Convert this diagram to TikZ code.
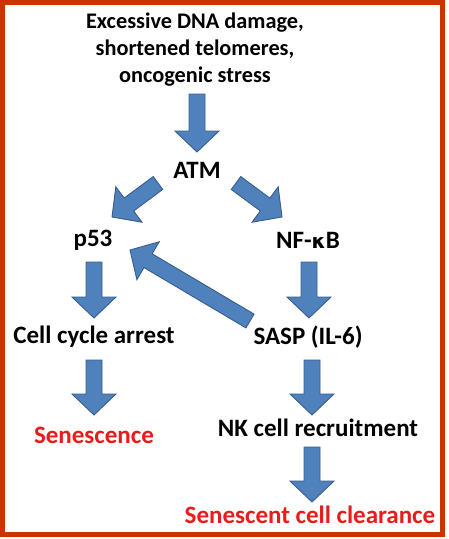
\documentclass[tikz,border=0pt]{standalone}
\usepackage{fontspec}
\setmainfont{Carlito}
\usetikzlibrary{calc}
\definecolor{framered}{RGB}{204,51,0}
\definecolor{arrowfill}{RGB}{79,129,189}
\definecolor{arrowline}{RGB}{56,93,138}
\definecolor{txtred}{RGB}{232,28,28}
\newcommand\lblfont{\fontsize{25}{30}\selectfont\bfseries}
\tikzset{
  lbl/.style={font=\lblfont, align=center, inner sep=0pt},
  toplbl/.style={lbl, font=\fontsize{22.3}{27}\selectfont\bfseries},
  redlbl/.style={lbl, text=txtred},
  blockarrow/.style={fill=arrowfill, draw=arrowline, line width=0.9pt, line join=miter}
}
\newcommand\barrow[2]{%
  \coordinate (hb) at ($(#2)!21pt!(#1)$);
  \path[blockarrow] ($(#1)!8pt!90:(#2)$) -- ($(hb)!8pt!-90:(#1)$) -- ($(hb)!22pt!-90:(#1)$) -- (#2)
    -- ($(hb)!22pt!90:(#1)$) -- ($(hb)!8pt!90:(#1)$) -- ($(#1)!8pt!-90:(#2)$) -- cycle;}
\begin{document}
\begin{tikzpicture}[x=1pt,y=-1pt]
\useasboundingbox (0,0) rectangle (449,539);
\draw[framered, line width=5pt] (2.5,2.5) rectangle (442.5,534.5);

\node[toplbl] (src) at (195,50) {Excessive DNA damage,\\shortened telomeres,\\oncogenic stress};
\node[lbl] (atm) at (197,170) {ATM};
\node[lbl] (p53) at (93,240) {p53};
\node[lbl] (nfkb) at (308,240) {NF-{\fontspec{DejaVu Sans}[Scale=0.8]\bfseries κ}B};
\node[lbl] (cca) at (94,337) {Cell cycle arrest};
\node[lbl] (sasp) at (308,337) {SASP (IL-6)};
\node[redlbl] (sen) at (94,435) {Senescence};
\node[lbl] (nk) at (318,428) {NK cell recruitment};
\node[redlbl] (clr) at (310,515) {Senescent cell clearance};

\coordinate (a1s) at (197,94);  \coordinate (a1e) at (197,152);
\coordinate (a2s) at (158,183); \coordinate (a2e) at (112,217);
\coordinate (a3s) at (236,183); \coordinate (a3e) at (282,217);
\coordinate (a4s) at (94,262);  \coordinate (a4e) at (94,318);
\coordinate (a5s) at (309,262); \coordinate (a5e) at (309,318);
\coordinate (a6s) at (250,321); \coordinate (a6e) at (130,250);
\coordinate (a7s) at (94,360);  \coordinate (a7e) at (94,415);
\coordinate (a8s) at (312,360); \coordinate (a8e) at (312,415);
\coordinate (a9s) at (312,447); \coordinate (a9e) at (312,502);

\barrow{a1s}{a1e}
\barrow{a2s}{a2e}
\barrow{a3s}{a3e}
\barrow{a4s}{a4e}
\barrow{a5s}{a5e}
\barrow{a6s}{a6e}
\barrow{a7s}{a7e}
\barrow{a8s}{a8e}
\barrow{a9s}{a9e}
\end{tikzpicture}
\end{document}
